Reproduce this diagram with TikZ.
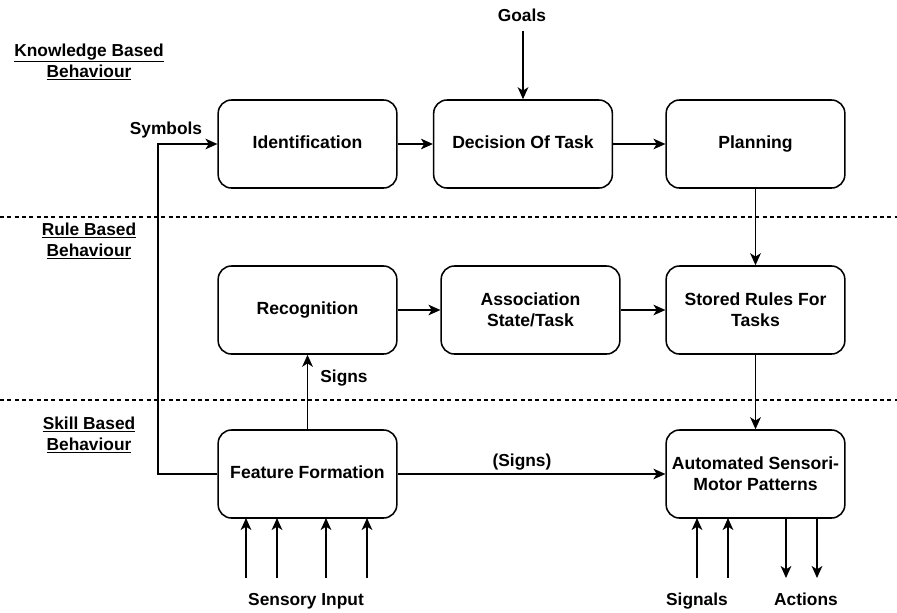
\documentclass[tikz,border=0pt]{standalone}
\usepackage{fontspec}
\setmainfont{Liberation Sans}
\usetikzlibrary{arrows.meta}
\begin{document}
\begin{tikzpicture}[x=0.75pt,y=-0.75pt,
  box/.style={draw, line width=1.15pt, rounded corners=10pt, minimum width=134pt, minimum height=66pt, align=center, font=\fontsize{13.2}{15.5}\selectfont\bfseries, inner sep=2pt},
  one/.style={text height=9.6pt, text depth=2.8pt},
  lbl/.style={font=\fontsize{13}{15}\selectfont\bfseries, inner sep=1pt, text height=9.5pt, text depth=3pt},
  side/.style={font=\fontsize{13}{16}\selectfont\bfseries, align=center, inner sep=1pt},
  conn/.style={line width=1.15pt, -{Stealth[length=9pt,width=8pt,inset=2.5pt]}},
  sep/.style={line width=0.8pt, dash pattern=on 3pt off 2.5pt}
]
\useasboundingbox (0,0) rectangle (897,612);

% separators
\draw[sep] (0,217) -- (897,217);
\draw[sep] (0,400) -- (897,400);

% side labels
\node[side] (kb) at (89,62) {\underline{Knowledge Based}\\\underline{Behaviour}};
\node[side] (rb) at (89,241) {\underline{Rule Based}\\\underline{Behaviour}};
\node[side] (sb) at (89,435) {\underline{Skill Based}\\\underline{Behaviour}};

% boxes
\node[box,one] (id) at (307.5,144) {Identification};
\node[box,one] (dec) at (523,144) {Decision Of Task};
\node[box,one] (plan) at (755.5,144) {Planning};
\node[box,one] (rec) at (307.5,310) {Recognition};
\node[box] (assoc) at (530.5,310) {Association\\State/Task};
\node[box] (rules) at (755.5,310) {Stored Rules For\\Tasks};
\node[box,one] (ff) at (307.5,474) {Feature Formation};
\node[box] (auto) at (755.5,474) {Automated Sensori-\\Motor Patterns};

% goals
\node[lbl] (goals) at (522,17) {Goals};
\draw[conn] (goals.south -| dec.north) ++(0,4) coordinate (g0) -- (dec.north);

% top row
\draw[conn] (id) -- (dec);
\draw[conn] (dec) -- (plan);
\draw[conn] (plan) -- (rules);
\draw[conn] (rec) -- (assoc);
\draw[conn] (assoc) -- (rules);
\draw[conn] (rules) -- (auto);

% symbols
\coordinate (sL) at (158,474);
\coordinate (sT) at (158,144);
\draw[conn] (ff.west) -- (sL) -- (sT) -- (id.west);
\node[lbl] (sym) at (166,130) {Symbols};

% signs
\draw[conn] (ff) -- (rec);
\node[lbl] (signs) at (344,378) {Signs};
\draw[conn] (ff) -- (auto);
\node[lbl] (psigns) at (522,462) {(Signs)};

% sensory input
\node[lbl] (sens) at (306,601) {Sensory Input};
\foreach \x/\n in {246/a,277/b,326/c,367/d}{
  \coordinate (s\n) at (\x,578);
  \draw[conn] (s\n) -- (\x,518);
}

% signals & actions
\node[lbl] (sig) at (697,601) {Signals};
\node[lbl] (act) at (806,601) {Actions};
\foreach \x/\n in {697/a,728/b}{
  \coordinate (g\n) at (\x,578);
  \draw[conn] (g\n) -- (\x,518);
}
\foreach \x/\n in {786/a,817/b}{
  \coordinate (a\n) at (\x,578);
  \draw[conn] (\x,518) -- (a\n);
}
\end{tikzpicture}
\end{document}
